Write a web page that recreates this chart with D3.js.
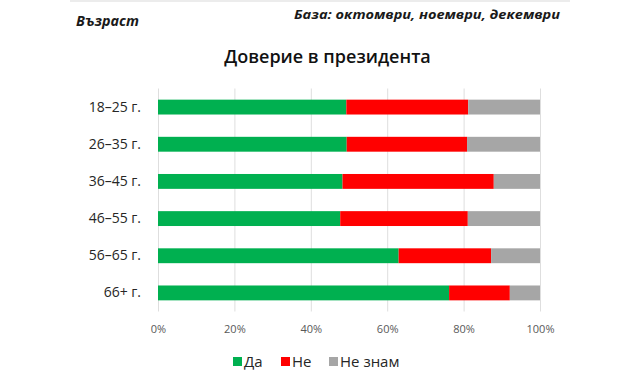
<!DOCTYPE html>
<html>
<head>
<meta charset="utf-8">
<script src="https://cdn.jsdelivr.net/npm/d3@7"></script>
<style>
  html, body { margin: 0; padding: 0; background: #fff; }
  svg { display: block; font-family: "Open Sans", "Noto Sans", sans-serif; }
</style>
</head>
<body>
<svg id="chart" width="629" height="382"></svg>
<script>
const categories = ["18–25 г.", "26–35 г.", "36–45 г.", "46–55 г.", "56–65 г.", "66+ г."];
const seriesNames = ["Да", "Не", "Не знам"];
const yes = [49.3, 49.4, 48.3, 47.7, 63.0, 76.2];
const no = [31.9, 31.5, 39.6, 33.4, 24.2, 15.9];
const dontKnow = [18.8, 19.1, 12.1, 18.9, 12.8, 7.9];
const tickValues = [0, 20, 40, 60, 80, 100];
const tickLabels = ["0%", "20%", "40%", "60%", "80%", "100%"];
const colors = ["#00b050", "#ff0000", "#a6a6a6"];
const titleText = "Доверие в президента";
const leftNote = "Възраст";
const rightNote = "База: октомври, ноември, декември";

const rows = categories.map((c, i) => ({ cat: c, "Да": yes[i], "Не": no[i], "Не знам": dontKnow[i] }));

const svg = d3.select("#chart");

// top thin line
svg.append("line").attr("x1", 70).attr("x2", 570).attr("y1", 1).attr("y2", 1)
  .attr("stroke", "#e6e6e6").attr("stroke-width", 1.5);

svg.append("text").attr("x", 76).attr("y", 26)
  .attr("font-size", 14).attr("font-weight", 700).attr("font-style", "italic")
  .attr("fill", "#1a1a1a").attr("textLength", 63).attr("lengthAdjust", "spacingAndGlyphs")
  .text(leftNote);

svg.append("text").attr("x", 560).attr("y", 19).attr("text-anchor", "end")
  .attr("font-size", 13).attr("font-weight", 700).attr("font-style", "italic")
  .attr("fill", "#1a1a1a").attr("textLength", 266).attr("lengthAdjust", "spacingAndGlyphs")
  .text(rightNote);

svg.append("text").attr("x", 327.5).attr("y", 63).attr("text-anchor", "middle")
  .attr("font-size", 18).attr("font-weight", 600).attr("fill", "#111111")
  .text(titleText);

const x = d3.scaleLinear().domain([0, 100]).range([158, 540]);
const y = d3.scaleBand().domain(categories).range([88.5, 311.5]).paddingInner(0.6).paddingOuter(0.3);

// gridlines
const grid = svg.append("g").attr("transform", "translate(0,311.5)")
  .call(d3.axisBottom(x).tickValues(tickValues).tickSize(-223).tickFormat(""));
grid.select(".domain").remove();
grid.selectAll(".tick line").attr("stroke", "#dedede").attr("stroke-width", 1);

// bars
const stack = d3.stack().keys(seriesNames)(rows);
svg.append("g").selectAll("g").data(stack).join("g")
  .attr("fill", (d, i) => colors[i])
  .selectAll("rect").data(d => d).join("rect")
  .attr("x", d => x(d[0]))
  .attr("width", d => x(d[1]) - x(d[0]))
  .attr("y", d => y(d.data.cat))
  .attr("height", y.bandwidth());

// x axis labels
const xa = svg.append("g").attr("transform", "translate(0,322)")
  .call(d3.axisBottom(x).tickValues(tickValues).tickSize(0).tickFormat((d, i) => tickLabels[i]));
xa.select(".domain").remove();
xa.selectAll("text").attr("font-size", 11).attr("fill", "#595959")
  .attr("font-family", "'Open Sans', sans-serif");

// y axis labels
const ya = svg.append("g").attr("transform", "translate(158,0)")
  .call(d3.axisLeft(y).tickSize(0).tickPadding(17));
ya.select(".domain").remove();
ya.selectAll("text").attr("font-size", 14).attr("fill", "#262626")
  .attr("font-family", "'Open Sans', sans-serif");

// legend
const legendX = [233, 281, 329];
const lg = svg.append("g").selectAll("g").data(seriesNames).join("g")
  .attr("transform", (d, i) => `translate(${legendX[i]},357)`);
lg.append("rect").attr("width", 9).attr("height", 9).attr("fill", (d, i) => colors[i]);
lg.append("text").attr("x", 11).attr("y", 10).attr("font-size", 15).attr("fill", "#262626").text(d => d);
</script>
</body>
</html>
